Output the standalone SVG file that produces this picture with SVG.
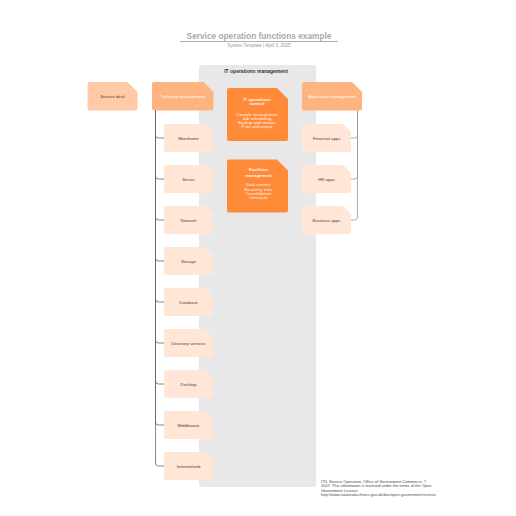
<svg xmlns="http://www.w3.org/2000/svg" xmlns:xlink="http://www.w3.org/1999/xlink" width="516" height="516" viewBox="0 0 516 516">
<style>
text{font-family:"Liberation Sans",Arial,sans-serif;text-anchor:middle}
.lbl{font-size:4.3px;fill:#444}
.wht{font-size:4.3px;fill:#fff}
.sm{font-size:3.8px;fill:#fff;letter-spacing:0.25px}
.whb{font-size:4px;fill:#fff;font-weight:bold;letter-spacing:0.2px}
.child{fill:#FFE6D6}
.mid{fill:#FFB47F}
.dark{fill:#FF8B39}
.conL{fill:none;stroke:#666;stroke-width:0.8}
.conR{fill:none;stroke:#999;stroke-width:0.8}
.foot{font-size:3.9px;fill:#444;text-anchor:start;letter-spacing:0.05px}
</style>
<defs>
<path id="cb" d="M2,0 H41 L49,8 V26 Q49,28 47,28 H2 Q0,28 0,26 V2 Q0,0 2,0 Z"/>
</defs>
<rect width="516" height="516" fill="#fff"/>
<g id="title">
<text x="259" y="39" style="font-size:8.3px;font-weight:bold;fill:#aaaaaa">Service operation functions example</text>
<line x1="180" y1="41.5" x2="338" y2="41.5" stroke="#999" stroke-width="0.8"/>
<text x="259" y="46.8" style="font-size:4.5px;fill:#999">System Template  |  April 3, 2025</text>
</g>
<g id="panel">
<rect x="199" y="65" width="117" height="422" rx="3" fill="#E8E8E8"/>
<text x="256" y="72.5" style="font-size:5px;fill:#333;font-weight:bold">IT operations management</text>
</g>
<g id="connectors">
<path class="conL" d="M155.5,110.5 V135 Q155.5,138 158.5,138 H164"/>
<path class="conL" d="M155.5,110.5 V176 Q155.5,179 158.5,179 H164"/>
<path class="conL" d="M155.5,110.5 V217 Q155.5,220 158.5,220 H164"/>
<path class="conL" d="M155.5,110.5 V258 Q155.5,261 158.5,261 H164"/>
<path class="conL" d="M155.5,110.5 V299 Q155.5,302 158.5,302 H164"/>
<path class="conL" d="M155.5,110.5 V340 Q155.5,343 158.5,343 H164"/>
<path class="conL" d="M155.5,110.5 V381 Q155.5,384 158.5,384 H164"/>
<path class="conL" d="M155.5,110.5 V422 Q155.5,425 158.5,425 H164"/>
<path class="conL" d="M155.5,110.5 V463 Q155.5,466 158.5,466 H164"/>
<path class="conR" d="M357.5,110.5 V135 Q357.5,138 354.5,138 H351"/>
<path class="conR" d="M357.5,110.5 V176 Q357.5,179 354.5,179 H351"/>
<path class="conR" d="M357.5,110.5 V217 Q357.5,220 354.5,220 H351"/>
</g>
<g id="service-desk">
<path fill="#FFCBA6" d="M89.5,82 H127.5 L137.5,92 V108.5 Q137.5,110.5 135.5,110.5 H89.5 Q87.5,110.5 87.5,108.5 V84 Q87.5,82 89.5,82 Z"/>
<text class="lbl" x="112.5" y="97.8">Service desk</text>
</g>
<g id="technical-management">
<path class="mid" d="M154,82 H203.5 L213.5,92 V108.5 Q213.5,110.5 211.5,110.5 H154 Q152,110.5 152,108.5 V84 Q152,82 154,82 Z"/>
<text class="wht" x="182.7" y="97.8">Technical management</text>
</g>
<g id="application-management">
<path class="mid" d="M304,82 H352 L362,92 V108.5 Q362,110.5 360,110.5 H304 Q302,110.5 302,108.5 V84 Q302,82 304,82 Z"/>
<text class="wht" x="332" y="97.8">Application management</text>
</g>
<g id="it-operations-control">
<path class="dark" d="M229,88 H277 L288,99 V139 Q288,141 286,141 H229 Q227,141 227,139 V90 Q227,88 229,88 Z"/>
<text class="whb" x="257" y="100.6">IT operations</text>
<text class="whb" x="257" y="105">control</text>
<text class="sm" x="257" y="116.4">Console management</text>
<text class="sm" x="257" y="120.3">Job scheduling</text>
<text class="sm" x="257" y="124.2">Backup and restore</text>
<text class="sm" x="257" y="128.1">Print and output</text>
</g>
<g id="facilities-management">
<path class="dark" d="M229,159.5 H277 L288,170.5 V210.5 Q288,212.5 286,212.5 H229 Q227,212.5 227,210.5 V161.5 Q227,159.5 229,159.5 Z"/>
<text class="whb" x="258.5" y="170.8">Facilities</text>
<text class="whb" x="258.5" y="176.6">management</text>
<text class="sm" x="258.5" y="186.1">Data centers</text>
<text class="sm" x="258.5" y="190.5">Recovery sites</text>
<text class="sm" x="258.5" y="194.9">Consolidation</text>
<text class="sm" x="258.5" y="199.3">Contracts</text>
</g>
<g id="mainframe"><use href="#cb" class="child" x="164" y="124"/><text class="lbl" x="188.5" y="139.6">Mainframe</text></g>
<g id="server"><use href="#cb" class="child" x="164" y="165"/><text class="lbl" x="188.5" y="180.6">Server</text></g>
<g id="network"><use href="#cb" class="child" x="164" y="206"/><text class="lbl" x="188.5" y="221.6">Network</text></g>
<g id="storage"><use href="#cb" class="child" x="164" y="247"/><text class="lbl" x="188.5" y="262.6">Storage</text></g>
<g id="database"><use href="#cb" class="child" x="164" y="288"/><text class="lbl" x="188.5" y="303.6">Database</text></g>
<g id="directory-services"><use href="#cb" class="child" x="164" y="329"/><text class="lbl" x="188.5" y="344.6">Directory services</text></g>
<g id="desktop"><use href="#cb" class="child" x="164" y="370"/><text class="lbl" x="188.5" y="385.6">Desktop</text></g>
<g id="middleware"><use href="#cb" class="child" x="164" y="411"/><text class="lbl" x="188.5" y="426.6">Middleware</text></g>
<g id="internet-web"><use href="#cb" class="child" x="164" y="452"/><text class="lbl" x="188.5" y="467.6">Internet/web</text></g>
<g id="financial-apps"><use href="#cb" class="child" x="302" y="124"/><text class="lbl" x="326.5" y="139.6">Financial apps</text></g>
<g id="hr-apps"><use href="#cb" class="child" x="302" y="165"/><text class="lbl" x="326.5" y="180.6">HR apps</text></g>
<g id="business-apps"><use href="#cb" class="child" x="302" y="206"/><text class="lbl" x="326.5" y="221.6">Business apps</text></g>
<g id="footer">
<text class="foot" x="321" y="483">ITIL Service Operation, Office of Government Commerce, ©</text>
<text class="foot" x="321" y="487.3">2007. This information is licensed under the terms of the Open</text>
<text class="foot" x="321" y="491.6">Government Licence</text>
<text class="foot" x="321" y="495.9">http://www.nationalarchives.gov.uk/doc/open-government-licence</text>
</g>
</svg>
